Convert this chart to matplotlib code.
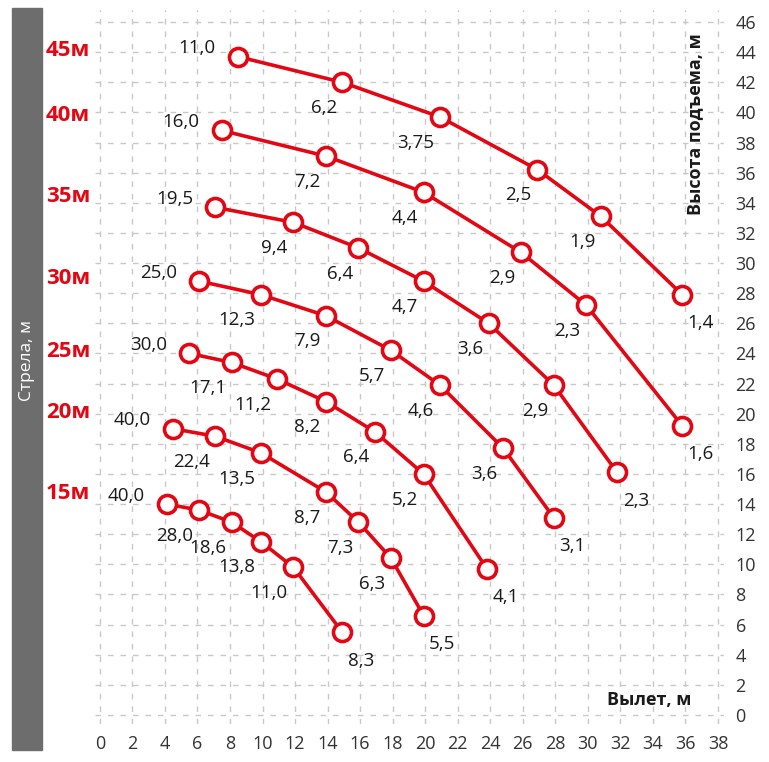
import matplotlib
matplotlib.use("Agg")
import matplotlib.pyplot as plt
from matplotlib.patches import Rectangle

plt.rcParams['font.family'] = ['Open Sans', 'DejaVu Sans']

booms = ["45м", "40м", "35м", "30м", "25м", "20м", "15м"]
boom_label_y = [44.1, 39.8, 34.4, 29.0, 24.1, 20.1, 14.7]

x45 = [8.5, 14.9, 20.9, 26.9, 30.8, 35.8]
y45 = [43.7, 42.0, 39.7, 36.2, 33.1, 27.9]
l45 = ["11,0", "6,2", "3,75", "2,5", "1,9", "1,4"]

x40 = [7.5, 13.9, 19.9, 25.9, 29.9, 35.8]
y40 = [38.8, 37.1, 34.7, 30.7, 27.2, 19.2]
l40 = ["16,0", "7,2", "4,4", "2,9", "2,3", "1,6"]

x35 = [7.1, 11.9, 15.9, 19.9, 23.9, 27.9, 31.8]
y35 = [33.7, 32.7, 31.0, 28.8, 26.0, 21.9, 16.1]
l35 = ["19,5", "9,4", "6,4", "4,7", "3,6", "2,9", "2,3"]

x30 = [6.1, 9.9, 13.9, 17.9, 20.9, 24.8, 27.9]
y30 = [28.8, 27.9, 26.5, 24.2, 21.9, 17.7, 13.1]
l30 = ["25,0", "12,3", "7,9", "5,7", "4,6", "3,6", "3,1"]

x25 = [5.5, 8.1, 10.9, 13.9, 16.9, 19.9, 23.8]
y25 = [24.0, 23.4, 22.3, 20.8, 18.8, 16.0, 9.7]
l25 = ["30,0", "17,1", "11,2", "8,2", "6,4", "5,2", "4,1"]

x20 = [4.5, 7.1, 9.9, 13.9, 15.9, 17.9, 19.9]
y20 = [19.0, 18.5, 17.4, 14.8, 12.8, 10.4, 6.6]
l20 = ["40,0", "22,4", "13,5", "8,7", "7,3", "6,3", "5,5"]

x15 = [4.1, 6.1, 8.1, 9.9, 11.9, 14.9]
y15 = [14.0, 13.6, 12.8, 11.5, 9.8, 5.5]
l15 = ["40,0", "28,0", "18,6", "13,8", "11,0", "8,3"]

series = [(x45, y45, l45), (x40, y40, l40), (x35, y35, l35), (x30, y30, l30),
          (x25, y25, l25), (x20, y20, l20), (x15, y15, l15)]

xticks = list(range(0, 39, 2))
yticks = list(range(0, 47, 2))

RED = "#e30613"
fig = plt.figure(figsize=(7.69, 7.62), dpi=100)
ax = fig.add_axes([0.1235, 0.0499, 0.8186, 0.937])
ax.set_xlim(-0.3, 38.4)
ax.set_ylim(-0.6, 46.8)
for s in ax.spines.values():
    s.set_visible(False)
ax.set_xticks(xticks)
ax.set_yticks(yticks)
ax.yaxis.tick_right()
ax.tick_params(length=0, labelsize=13, labelcolor="#333333", pad=8)
ax.grid(True, color="#c8c8c8", linestyle=(0, (4, 5)), linewidth=1)
ax.set_axisbelow(True)

for xs, ys, ls in series:
    ax.plot(xs, ys, color=RED, lw=2.6, marker="o", ms=13, mfc="white",
            mec=RED, mew=2.6, zorder=3)
    n = len(xs)
    for i, (x, y, t) in enumerate(zip(xs, ys, ls)):
        if i == 0:
            off, ha, va = (-16, 6), "right", "center"
        elif i == n - 1:
            off, ha, va = (4, -14), "left", "top"
        else:
            off, ha, va = (-4, -12), "right", "top"
        ax.annotate(t, (x, y), xytext=off, textcoords="offset points",
                    ha=ha, va=va, fontsize=13.5, color="#1a1a1a")

for b, y in zip(booms, boom_label_y):
    ax.text(-1.95, y, b, ha="center", va="center", color=RED, fontsize=16,
            fontweight="bold", clip_on=False)

ax.text(36.6, 39.2, "Высота подъема, м", rotation=90, ha="center", va="center",
        fontsize=13, fontweight="bold", color="#1a1a1a")
ax.text(33.8, 1.0, "Вылет, м", ha="center", va="center",
        fontsize=13, fontweight="bold", color="#1a1a1a")

fig.patches.append(Rectangle((12 / 769, 1 - 750 / 762), 30 / 769, 742 / 762,
                             transform=fig.transFigure, color="#6d6d6d", zorder=0))
fig.text(27 / 769, 1 - 360 / 762, "Стрела, м", rotation=90, ha="center",
         va="center", color="white", fontsize=12.5)

fig.savefig("out.png", dpi=100)
